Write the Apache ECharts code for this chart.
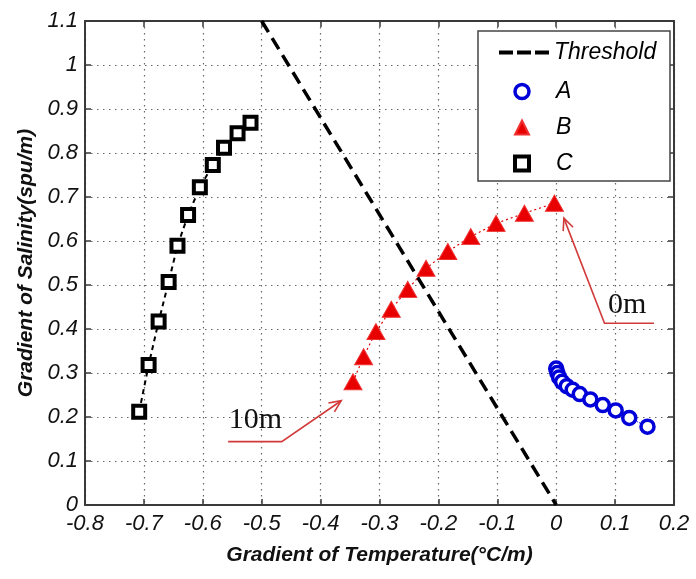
<!DOCTYPE html>
<html>
<head>
<meta charset="utf-8">
<script src="https://cdn.jsdelivr.net/npm/echarts@6/dist/echarts.min.js"></script>
<style>
  html, body { margin: 0; padding: 0; background: #fff; }
  #chart { width: 696px; height: 579px; }
</style>
</head>
<body>
<div id="chart"></div>
<script>
// data
var thresholdX = [-0.5, 0];
var thresholdY = [1.1, 0];

var aX = [0.0, 0.002, 0.005, 0.01, 0.018, 0.028, 0.04, 0.058, 0.079, 0.101, 0.124, 0.155];
var aY = [0.31, 0.30, 0.29, 0.28, 0.27, 0.262, 0.252, 0.24, 0.227, 0.215, 0.198, 0.178];

var bX = [-0.345, -0.327, -0.306, -0.28, -0.252, -0.221, -0.184, -0.145, -0.102, -0.054, -0.003];
var bY = [0.28, 0.337, 0.394, 0.445, 0.49, 0.538, 0.576, 0.61, 0.64, 0.663, 0.686];

var cX = [-0.708, -0.692, -0.675, -0.658, -0.643, -0.625, -0.605, -0.583, -0.564, -0.541, -0.519];
var cY = [0.212, 0.318, 0.417, 0.507, 0.589, 0.659, 0.722, 0.773, 0.812, 0.845, 0.869];

var xTicks = [-0.8, 0.2, 0.1];   // min, max, step
var yTicks = [0, 1.1, 0.1];

// annotation anchors in data units: tip of arrow, start of arrow, end of underline
var notes = [
  { text: '0m',  tip: [0.013, 0.652],  tail: [0.082, 0.413],  end: [0.166, 0.413],  textAt: [0.088, 0.42] },
  { text: '10m', tip: [-0.365, 0.237], tail: [-0.466, 0.144], end: [-0.557, 0.144], textAt: [-0.556, 0.159] }
];

function zip(xs, ys){
  var out = [];
  for (var i = 0; i < xs.length; i++) out.push([xs[i], ys[i]]);
  return out;
}

var font = 'Liberation Sans, Arial, sans-serif';
var axisColor = '#3a3a3a';
var legendText = { fontFamily: font, fontStyle: 'italic', fontSize: 23, color: '#000' };

var chart = echarts.init(document.getElementById('chart'));

function fmt(v){ return String(+v.toFixed(1)); }

var option = {
  animation: false,
  backgroundColor: '#fff',
  grid: { left: 85, right: 22, top: 21, bottom: 74 },
  legend: [{
    orient: 'vertical',
    left: 494, top: 36,
    itemWidth: 50, itemHeight: 4,
    data: [{ name: 'Threshold', icon: 'path://M0,0h14v4h-14z M18,0h14v4h-14z M36,0h14v4h-14z' }],
    textStyle: legendText,
    z: 10
  }, {
    orient: 'vertical',
    left: 508, top: 75,
    itemWidth: 14, itemHeight: 14, itemGap: 13,
    data: [
      { name: 'A', itemStyle: { borderWidth: 3.5 } },
      { name: 'B' },
      { name: 'C', itemStyle: { borderWidth: 4 } }
    ],
    textStyle: Object.assign({ padding: [0, 0, 0, 22] }, legendText),
    z: 10
  }],
  xAxis: [{
    type: 'value', min: xTicks[0], max: xTicks[1], interval: xTicks[2],
    name: 'Gradient of Temperature(°C/m)', nameLocation: 'middle', nameGap: 40,
    nameTextStyle: { fontFamily: font, fontStyle: 'italic', fontWeight: 'bold', fontSize: 21, color: '#111' },
    axisLine: { onZero: false, lineStyle: { color: axisColor, width: 2 } },
    axisTick: { inside: true, length: 6, lineStyle: { color: axisColor, width: 1.5 } },
    axisLabel: { formatter: fmt, margin: 8, fontFamily: font, fontStyle: 'italic', fontSize: 22, color: '#111' },
    splitLine: { show: true, lineStyle: { color: '#666', type: [1.5, 4.5], width: 1.2 } }
  }, {
    type: 'value', position: 'top', min: xTicks[0], max: xTicks[1], interval: xTicks[2],
    axisLine: { onZero: false, lineStyle: { color: axisColor, width: 2 } },
    axisTick: { inside: true, length: 6, lineStyle: { color: axisColor, width: 1.5 } },
    axisLabel: { show: false }, splitLine: { show: false }
  }],
  yAxis: [{
    type: 'value', min: yTicks[0], max: yTicks[1], interval: yTicks[2],
    name: 'Gradient of Salinity(spu/m)', nameLocation: 'middle', nameGap: 45,
    nameTextStyle: { fontFamily: font, fontStyle: 'italic', fontWeight: 'bold', fontSize: 21, color: '#111' },
    axisLine: { onZero: false, lineStyle: { color: axisColor, width: 2 } },
    axisTick: { inside: true, length: 6, lineStyle: { color: axisColor, width: 1.5 } },
    axisLabel: { formatter: fmt, margin: 7, fontFamily: font, fontStyle: 'italic', fontSize: 22, color: '#111' },
    splitLine: { show: true, lineStyle: { color: '#666', type: [1.5, 4.5], width: 1.2 } }
  }, {
    type: 'value', position: 'right', min: yTicks[0], max: yTicks[1], interval: yTicks[2],
    axisLine: { onZero: false, lineStyle: { color: axisColor, width: 2 } },
    axisTick: { inside: true, length: 6, lineStyle: { color: axisColor, width: 1.5 } },
    axisLabel: { show: false }, splitLine: { show: false }
  }],
  series: [
    {
      name: 'Threshold', type: 'line', data: zip(thresholdX, thresholdY),
      symbol: 'none', z: 3,
      lineStyle: { color: '#000', width: 3.5, type: [13, 7] },
      itemStyle: { color: '#000' }
    },
    { type: 'line', data: zip(aX, aY), symbol: 'none', silent: true,
      lineStyle: { color: '#0000cc', width: 1, type: 'dotted' } },
    { type: 'line', data: zip(bX, bY), symbol: 'none', silent: true,
      lineStyle: { color: '#dd0000', width: 1.2, type: [2, 3] } },
    { type: 'line', data: zip(cX, cY), symbol: 'none', silent: true,
      lineStyle: { color: '#000', width: 2, type: [5, 4] } },
    {
      name: 'A', type: 'scatter', data: zip(aX, aY), z: 4,
      symbol: 'circle', symbolSize: 13,
      itemStyle: { color: '#fff', borderColor: '#0000d8', borderWidth: 3.5, opacity: 1 }
    },
    {
      name: 'B', type: 'scatter', data: zip(bX, bY), z: 4,
      symbol: 'triangle', symbolSize: [18, 16],
      itemStyle: { color: '#e80000', borderColor: '#f03030', borderWidth: 1, opacity: 1 }
    },
    {
      name: 'C', type: 'scatter', data: zip(cX, cY), z: 4,
      symbol: 'rect', symbolSize: 12,
      itemStyle: { color: '#fff', borderColor: '#000', borderWidth: 4, opacity: 1 }
    }
  ]
};
chart.setOption(option);

// legend box + red arrow notes, placed from data coordinates
function px(p){ return chart.convertToPixel({ gridIndex: 0 }, p); }

function arrowParts(n){
  var tip = px(n.tip), tail = px(n.tail), end = px(n.end), t = px(n.textAt);
  var ang = Math.atan2(tail[1] - tip[1], tail[0] - tip[0]);
  var len = 13, spread = 0.42;
  var red = '#d23a3a';
  return [
    { type: 'polyline', z: 6, shape: { points: [end, tail, tip] },
      style: { stroke: red, lineWidth: 1.6, fill: null } },
    { type: 'polyline', z: 6, shape: { points: [
        [tip[0] + len * Math.cos(ang + spread), tip[1] + len * Math.sin(ang + spread)],
        tip,
        [tip[0] + len * Math.cos(ang - spread), tip[1] + len * Math.sin(ang - spread)]
      ] }, style: { stroke: red, lineWidth: 1.6, fill: null } },
    { type: 'text', z: 6, x: t[0], y: t[1],
      style: { text: n.text, fill: '#111', font: '30px "Liberation Serif", "Times New Roman", serif',
               textAlign: 'left', textVerticalAlign: 'bottom' } }
  ];
}

var graphics = [{
  type: 'rect', z: 5,
  shape: { x: 478, y: 31, width: 192, height: 150 },
  style: { fill: '#fff', stroke: '#444', lineWidth: 1.5 }
}];
notes.forEach(function(n){ graphics = graphics.concat(arrowParts(n)); });
chart.setOption({ graphic: graphics });
</script>
</body>
</html>
